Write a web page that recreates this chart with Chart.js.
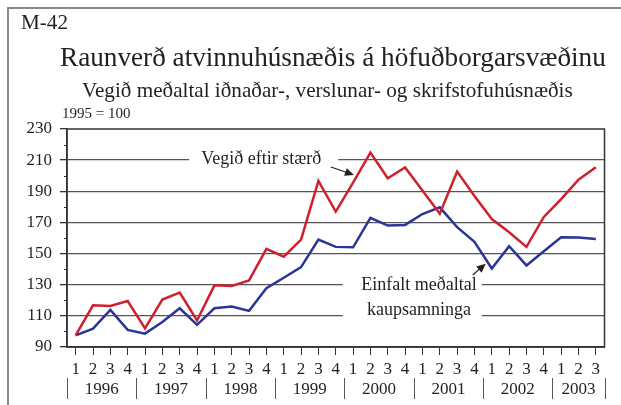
<!DOCTYPE html>
<html>
<head>
<meta charset="utf-8">
<script src="https://cdn.jsdelivr.net/npm/chart.js@4"></script>
<style>
  html, body { margin: 0; padding: 0; background: #fff; }
  canvas { display: block; }
</style>
</head>
<body>
<canvas id="chart" width="621" height="405"></canvas>
<script>
// Quarterly index, 1995 = 100
const quarterLabels = ['1','2','3','4','1','2','3','4','1','2','3','4','1','2','3','4',
                       '1','2','3','4','1','2','3','4','1','2','3','4','1','2','3'];
const years = ['1996','1997','1998','1999','2000','2001','2002','2003'];
const quartersPerYear = [4, 4, 4, 4, 4, 4, 4, 3];

// Vegið eftir stærð (red)
const weighted = [97.5, 116.8, 116.3, 119.5, 102, 120.5, 125, 107,
                  129.6, 129.2, 132.8, 153, 148, 159, 196.7, 177,
                  195.5, 214.9, 198.4, 205.3, 190.5, 175.6, 202.7, 187,
                  172.2, 163.7, 154.3, 173.5, 185, 197.4, 205.5];
// Einfalt meðaltal kaupsamninga (blue)
const simple = [97.5, 101.8, 113.8, 101, 98.6, 106, 114.9, 104.2,
                114.9, 116, 113.2, 127.7, 134.5, 141.3, 159, 154.3,
                154, 173, 168, 168.4, 175.4, 179.7, 167, 157.5,
                140.4, 154.7, 142.4, 151.5, 160.5, 160.3, 159.4];

const SERIF = '"Liberation Serif", "Times New Roman", serif';
const TEXT = '#231f20';

// draw text scaled so it spans a given width
function fitText(ctx, text, x, y, width) {
    ctx.font = '100px ' + SERIF;
    const size = 100 * width / ctx.measureText(text).width;
    ctx.font = size.toFixed(2) + 'px ' + SERIF;
    ctx.textAlign = 'left';
    ctx.textBaseline = 'alphabetic';
    ctx.fillText(text, x, y);
}

function arrow(ctx, x1, y1, x2, y2) {
    const a = Math.atan2(y2 - y1, x2 - x1);
    ctx.strokeStyle = TEXT;
    ctx.fillStyle = TEXT;
    ctx.lineWidth = 1.2;
    ctx.beginPath();
    ctx.moveTo(x1, y1);
    ctx.lineTo(x2 - 6 * Math.cos(a), y2 - 6 * Math.sin(a));
    ctx.stroke();
    ctx.beginPath();
    ctx.moveTo(x2, y2);
    ctx.lineTo(x2 - 9 * Math.cos(a) + 4 * Math.sin(a), y2 - 9 * Math.sin(a) - 4 * Math.cos(a));
    ctx.lineTo(x2 - 9 * Math.cos(a) - 4 * Math.sin(a), y2 - 9 * Math.sin(a) + 4 * Math.cos(a));
    ctx.closePath();
    ctx.fill();
}

const decorations = {
    id: 'decorations',
    beforeDatasetsDraw(chart) {
        // white boxes behind the line labels break the gridlines
        const ctx = chart.ctx;
        const x = chart.scales.x, y = chart.scales.y;
        ctx.save();
        ctx.fillStyle = '#fff';
        ctx.fillRect(x.getPixelForValue(6.55), y.getPixelForValue(213.5), 149, 14);
        ctx.fillRect(x.getPixelForValue(15.4), y.getPixelForValue(134), 139, 42);
        ctx.restore();
    },
    afterDraw(chart) {
        const ctx = chart.ctx;
        const area = chart.chartArea;
        const x = chart.scales.x, y = chart.scales.y;
        ctx.save();

        // outer frame (top and left)
        ctx.strokeStyle = '#8a8a8a';
        ctx.lineWidth = 2;
        ctx.beginPath();
        ctx.moveTo(8, 406);
        ctx.lineTo(8, 8);
        ctx.lineTo(621, 8);
        ctx.stroke();

        // plot box
        ctx.strokeStyle = '#333';
        ctx.lineWidth = 1.5;
        ctx.strokeRect(area.left, area.top, area.right - area.left, area.bottom - area.top);

        // minor y ticks
        ctx.lineWidth = 1;
        ctx.beginPath();
        for (let v = 100; v < 230; v += 20) {
            const py = Math.round(y.getPixelForValue(v)) + 0.5;
            ctx.moveTo(area.left - 3, py);
            ctx.lineTo(area.left, py);
        }
        ctx.stroke();

        // titles
        ctx.fillStyle = TEXT;
        fitText(ctx, 'M-42', 21, 29, 47);
        fitText(ctx, 'Raunverð atvinnuhúsnæðis á höfuðborgarsvæðinu', 60, 66, 546);
        fitText(ctx, 'Vegið meðaltal iðnaðar-, verslunar- og skrifstofuhúsnæðis', 82, 97, 491);
        ctx.font = '15px ' + SERIF;
        ctx.fillText('1995 = 100', 62, 118);

        // year labels and separators
        ctx.strokeStyle = '#555';
        ctx.lineWidth = 1;
        ctx.font = '17px ' + SERIF;
        ctx.textAlign = 'center';
        ctx.textBaseline = 'middle';
        let start = 0;
        years.forEach((yr, i) => {
            const end = start + quartersPerYear[i];
            const x0 = x.getPixelForValue(start - 0.5);
            const x1 = x.getPixelForValue(end - 0.5);
            ctx.beginPath();
            ctx.moveTo(Math.round(x0) + 0.5, 378);
            ctx.lineTo(Math.round(x0) + 0.5, 399);
            if (i === years.length - 1) {
                ctx.moveTo(Math.round(x1) + 0.5, 378);
                ctx.lineTo(Math.round(x1) + 0.5, 399);
            }
            ctx.stroke();
            ctx.fillText(yr, (x0 + x1) / 2, 390);
            start = end;
        });

        // series labels
        ctx.font = '18px ' + SERIF;
        ctx.fillText('Vegið eftir stærð', x.getPixelForValue(10.7), y.getPixelForValue(210) - 1);
        ctx.fillText('Einfalt meðaltal', x.getPixelForValue(19.8), y.getPixelForValue(130) + 1);
        ctx.fillText('kaupsamninga', x.getPixelForValue(19.8), y.getPixelForValue(110) - 6);

        arrow(ctx, x.getPixelForValue(14.72), y.getPixelForValue(205.6),
                   x.getPixelForValue(16.05), y.getPixelForValue(200.5));
        arrow(ctx, x.getPixelForValue(22.9), y.getPixelForValue(136.2),
                   x.getPixelForValue(23.65), y.getPixelForValue(143.5));
        ctx.restore();
    }
};

new Chart(document.getElementById('chart'), {
    type: 'line',
    data: {
        labels: quarterLabels,
        datasets: [{
            label: 'Vegið eftir stærð',
            data: weighted,
            borderColor: '#d0202c',
            borderWidth: 2.5,
            pointRadius: 0,
            tension: 0
        }, {
            label: 'Einfalt meðaltal kaupsamninga',
            data: simple,
            borderColor: '#2b3597',
            borderWidth: 2.5,
            pointRadius: 0,
            tension: 0
        }]
    },
    options: {
        responsive: false,
        animation: false,
        devicePixelRatio: 1,
        layout: { padding: { top: 129, right: 16.5, bottom: 0, left: 0 } },
        plugins: {
            legend: { display: false },
            tooltip: { enabled: false }
        },
        scales: {
            x: {
                offset: true,
                grid: {
                    offset: false,
                    drawOnChartArea: false,
                    tickLength: 8,
                    tickColor: '#333',
                    lineWidth: 1
                },
                border: { color: '#333', width: 1.5 },
                ticks: {
                    autoSkip: false,
                    maxRotation: 0,
                    padding: 4,
                    color: TEXT,
                    font: { family: SERIF, size: 17 }
                },
                afterFit: s => { s.height = 58; }
            },
            y: {
                min: 90,
                max: 230,
                ticks: {
                    stepSize: 20,
                    padding: 8,
                    color: TEXT,
                    font: { family: SERIF, size: 17 }
                },
                grid: {
                    color: ctx => ctx.tick && ctx.tick.value === 230 ? 'rgba(0,0,0,0)' : '#555',
                    lineWidth: 1.3,
                    tickLength: 7,
                    tickColor: '#333'
                },
                border: { color: '#333', width: 1.5 },
                afterFit: s => { s.width = 67; }
            }
        }
    },
    plugins: [decorations]
});
</script>
</body>
</html>
